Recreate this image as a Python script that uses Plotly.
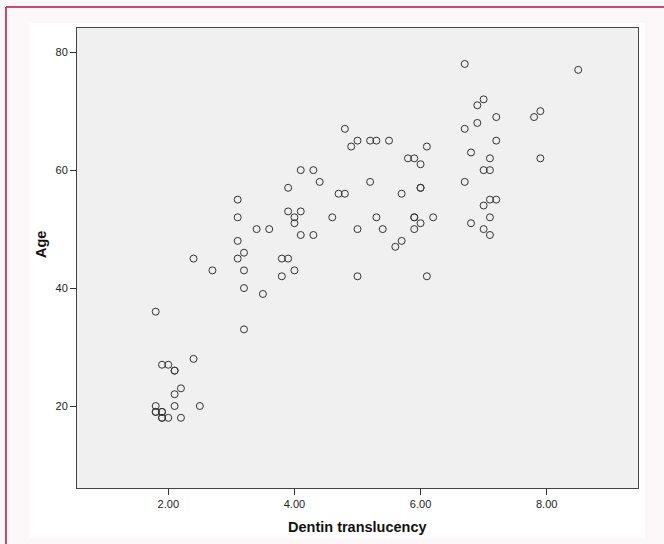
import plotly.graph_objects as go

# Dentin translucency (x) and Age (y)
translucency = [
    1.8, 1.8, 1.8, 1.8, 1.9, 1.9, 1.9, 1.9, 2.0, 2.2, 2.1, 2.5, 2.1, 2.2, 2.1, 2.1, 1.9, 2.0, 2.4, 3.2,
    3.5, 3.2, 3.8, 5.0, 2.7, 3.2, 4.0, 2.4, 3.1, 3.8, 3.9, 3.2, 3.1, 4.1, 4.3, 3.4, 3.6, 5.0, 4.0, 3.1,
    4.0, 4.6, 5.3, 3.9, 4.1, 3.1, 4.7, 4.8, 3.9, 4.4, 5.2, 4.1, 4.3, 4.9, 5.0, 5.2, 5.3, 5.5, 4.8,
    6.1, 5.6, 5.7, 7.1, 5.4, 5.9, 7.0, 6.0, 6.8, 5.9, 5.9, 6.2, 7.1, 7.0, 7.1, 7.2, 5.7, 6.0, 6.0, 6.7,
    7.0, 7.1, 6.0, 5.8, 5.9, 7.1, 7.9, 6.8, 6.1, 7.2, 6.7, 6.9, 7.2, 7.8, 7.9, 6.9, 7.0, 8.5, 6.7,
]
age = [
    36, 20, 19, 19, 19, 19, 18, 18, 18, 18, 20, 20, 22, 23, 26, 26, 27, 27, 28, 33,
    39, 40, 42, 42, 43, 43, 43, 45, 45, 45, 45, 46, 48, 49, 49, 50, 50, 50, 51, 52,
    52, 52, 52, 53, 53, 55, 56, 56, 57, 58, 58, 60, 60, 64, 65, 65, 65, 65, 67,
    42, 47, 48, 49, 50, 50, 50, 51, 51, 52, 52, 52, 52, 54, 55, 55, 56, 57, 57, 58,
    60, 60, 61, 62, 62, 62, 62, 63, 64, 65, 67, 68, 69, 69, 70, 71, 72, 77, 78,
]

x_tickvals = [2, 4, 6, 8]
x_ticktext = ["2.00", "4.00", "6.00", "8.00"]
y_tickvals = [20, 40, 60, 80]
y_ticktext = ["20", "40", "60", "80"]

fig = go.Figure()
fig.add_trace(go.Scatter(
    x=translucency, y=age, mode="markers",
    marker=dict(symbol="circle", size=7, color="rgba(0,0,0,0)",
                line=dict(color="#333333", width=1)),
    hoverinfo="x+y", showlegend=False,
))

W, H = 664, 544
L, R, T, B = 77, 638, 28, 488
pw, ph = R - L, B - T

def px(x):
    return (x - L) / pw

def py(y):
    return (B - y) / ph

shapes = [
    # white inner panel
    dict(type="rect", xref="paper", yref="paper", layer="below",
         x0=px(30), x1=px(645), y0=py(538), y1=py(23),
         fillcolor="white", line=dict(width=0)),
    # plot area grey
    dict(type="rect", xref="paper", yref="paper", layer="below",
         x0=0, x1=1, y0=0, y1=1, fillcolor="#f0f0f0", line=dict(width=0)),
    # crimson frame lines
    dict(type="line", xref="paper", yref="paper",
         x0=px(6), x1=px(664), y0=py(7), y1=py(7),
         line=dict(color="#c24d72", width=2)),
    dict(type="line", xref="paper", yref="paper",
         x0=px(6), x1=px(6), y0=py(7), y1=py(544),
         line=dict(color="#c24d72", width=2)),
]

fig.update_layout(
    width=W, height=H,
    margin=dict(l=L, r=W - R, t=T, b=H - B, pad=0),
    paper_bgcolor="#fcf8f9",
    plot_bgcolor="#f0f0f0",
    font=dict(family="Liberation Sans, Arial, sans-serif", size=11, color="#222222"),
    shapes=shapes,
    showlegend=False,
    xaxis=dict(range=[0.552, 9.448], tickvals=x_tickvals, ticktext=x_ticktext,
               showgrid=False, zeroline=False, ticks="outside", ticklen=6,
               tickcolor="#333333", showline=True, linecolor="#444444", linewidth=1,
               mirror=True),
    yaxis=dict(range=[6.1, 84.1], tickvals=y_tickvals, ticktext=y_ticktext,
               showgrid=False, zeroline=False, ticks="outside", ticklen=6,
               tickcolor="#333333", showline=True, linecolor="#444444", linewidth=1,
               mirror=True),
    annotations=[
        dict(text="<b>Dentin translucency</b>", xref="paper", yref="paper",
             x=0.5, y=py(527), showarrow=False, xanchor="center", yanchor="middle",
             font=dict(size=14.5, color="#111111")),
        dict(text="<b>Age</b>", xref="paper", yref="paper",
             x=px(41), y=py(244), showarrow=False, textangle=-90,
             xanchor="center", yanchor="middle",
             font=dict(size=14.5, color="#111111")),
    ],
)

fig.write_html(
    "out.html",
    config={"displayModeBar": False},
    post_script="document.body.style.margin='0';document.body.style.overflow='hidden';",
)
